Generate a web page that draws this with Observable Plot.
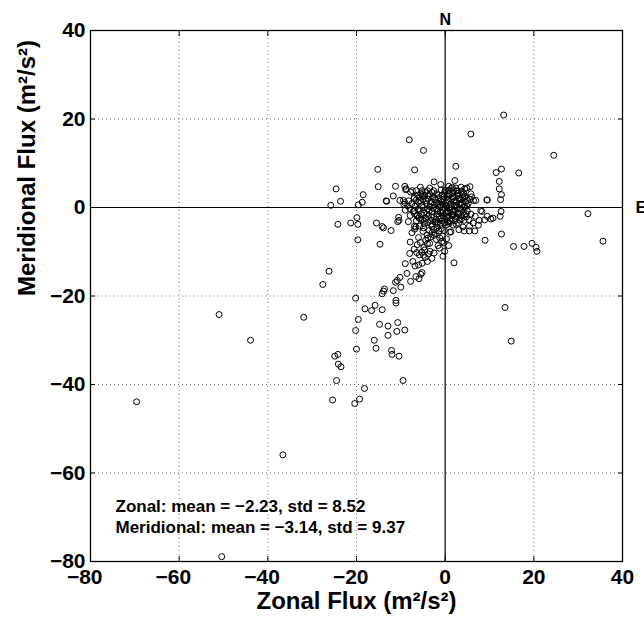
<!DOCTYPE html>
<html><head><meta charset="utf-8">
<script src="https://cdn.jsdelivr.net/npm/d3@7"></script>
<script src="https://cdn.jsdelivr.net/npm/@observablehq/plot@0.6"></script>
<style>body{margin:0;background:#fff}</style>
</head><body><div id="chart"></div>
<script>
// ---- data (zonal, meridional) in m^2/s^2 ----
const xTicks = [-80, -60, -40, -20, 0, 20, 40];
const yTicks = [-80, -60, -40, -20, 0, 20, 40];
const gridTicks = [-60, -40, -20, 20];
const xLabel = "Zonal Flux (m\u00B2/s\u00B2)";
const yLabel = "Meridional Flux (m\u00B2/s\u00B2)";
const zonalMean = -2.23, zonalStd = 8.52;
const meridMean = -3.14, meridStd = 9.37;

const farPoints = [
[-69.6,-43.9],[-50.4,-78.9],[-51.0,-24.2],[-43.9,-30.0],[-36.6,-55.9],[-31.9,-24.8],
[-26.2,-14.4],[-27.6,-17.4],
[-24.1,-35.4],[-23.5,-36.0],[-24.5,-39.1],[-25.4,-43.5],[-20.4,-44.3],[-19.3,-43.3],[-18.2,-40.9],
[-24.9,-33.6],[-24.2,-33.2],[-20.0,-32.0],[-20.2,-27.8],[-19.6,-25.3],[-20.2,-20.5],
[-18.1,-22.9],[-16.6,-23.3],[-15.8,-22.1],[-14.2,-23.1],
[-14.8,-26.4],[-12.9,-26.8],[-10.7,-26.0],[-10.9,-28.0],[-9.1,-27.7],[-12.9,-28.9],
[-16.0,-30.0],[-15.6,-31.8],[-12.1,-32.3],[-12.0,-33.2],[-10.4,-33.6],[-9.5,-39.1],
[-11.1,-21.0],[-11.1,-21.6],
[32.2,-1.4],[35.6,-7.6],[13.5,-22.6],[14.9,-30.2],[24.5,11.8],[13.2,20.9],[5.8,16.6]
];

const ringPoints = [
[-13.7,-18.4],[-13.9,-18.9],[-14.2,-19.5],[-11.7,-18.8],[-10.0,-18.0],
[-10.2,-15.8],[-10.8,-16.5],[-11.2,-16.9],[-7.8,-16.7],[-5.9,-16.1],[-8.6,-14.9],[-6.6,-15.6],[-5.5,-15.1],[-5.2,-14.7],
[-9.0,-12.7],[-6.8,-13.2],[-6.0,-13.0],[-5.2,-12.6],[-4.0,-12.2],[-4.9,-10.8],[-5.8,-10.7],[-5.3,-10.1],[-4.8,-9.0],[-3.8,-10.5],[-2.5,-10.3],[-3.5,-8.1],[-3.3,-6.7],[-2.9,-5.6],[-1.6,-8.6],[-0.1,-9.9],[-3.4,-9.9],[-1.4,-5.3],[-2.5,-6.3],[-4.0,-8.2],
[-14.7,-8.3],[-19.7,-7.3],[-12.2,-5.2],[-10.7,-3.2],[-10.5,-2.2],[-15.5,-3.5],[-14.2,-4.3],[-24.2,-3.8],[-21.3,-3.5],[-19.9,-2.3],[-19.7,-3.8],[-13.9,-4.6],[-6.9,-4.2],[-6.6,-4.4],[-10.4,-2.9],
[-8.1,15.3],[-4.9,12.9],[-15.2,8.6],[-6.9,8.5],[-2.5,5.8],[-24.6,4.2],[-15.1,4.7],[-23.6,1.4],[-25.8,0.5],[-18.5,2.9],[-18.7,1.2],[-19.6,0.6],[-13.3,1.5],[-11.2,4.8],[-11.7,2.6],[-9.1,4.8],[-10.2,1.6],[-9.4,1.6],[-8.9,4.0],[-7.8,3.5],[-8.8,4.2],[-13.2,1.4],[-9.1,1.1],
[2.4,9.3],[11.5,7.9],[12.7,8.7],[16.6,7.8],[2.2,6.1],[12.2,5.9],[12.2,4.2],[12.7,2.9],[12.5,1.8],[9.4,1.7],[1.4,4.3],[2.4,4.4],[4.4,4.2],[5.6,4.7],[6.4,1.6],[5.0,1.6],[4.9,4.4],[5.8,3.1],[4.4,2.3],[6.9,1.6],[9.5,1.7],[1.6,4.6],[2.8,3.8],
[12.6,-0.9],[12.4,-2.0],[8.3,-0.9],[9.5,-2.0],[10.3,-2.6],[10.8,-2.4],[12.7,-6.0],[9.0,-7.4],[15.4,-8.8],[17.8,-8.8],[19.6,-8.1],[20.5,-9.0],[20.7,-9.9],[2.0,-12.5],[1.3,-5.5],[3.1,-5.0],[4.3,-5.3],[5.4,-5.3],[6.7,-5.3],[8.0,-0.7],[6.8,-2.0],[7.7,-2.9],[8.9,-2.8],[1.0,-5.6]
];

const nearPoints = [
[-1.8,-4.5],[-2.6,-4.9],[-3.6,-5.2],[-4.1,-6.2],[-2.0,-7.2],[-0.6,-6.5],[-0.9,-4.8],[-4.4,-7.4],[-0.3,-8.0],[-5.0,-5.4],[-6.0,-6.8],[-7.5,-5.7],[-8.3,-3.2],[-7.9,-1.8],[-9.0,-0.6],[-7.9,-7.8],[-7.0,-9.4],[-6.3,-8.4],[-8.5,0.4],[-9.3,0.7],[-7.0,-0.7],[-6.3,-1.8],[-5.5,-2.6],[-4.6,-3.7],
[-3.5,4.4],[-1.0,5.2],[0.8,4.8],[-5.6,4.6],[3.6,4.6],[-6.5,3.8],[6.0,2.4],[6.3,-3.5],[5.5,-4.2],[-0.2,-5.2],[-7.4,3.8],[-7.0,2.3],[-5.5,3.1],[7.5,-4.0],[4.0,-4.4],
[-6.9,-4.9],[-5.8,-4.2],[-4.9,-4.6],[-3.9,-6.9],[-3.0,-4.3],[-2.2,-5.8],[-1.2,-6.9],[-0.8,-7.7],[-1.3,-9.2],[-5.6,-7.9],[-4.6,-9.6],[-6.4,-10.2],[-7.3,-12.2],[-8.0,-10.4],[-3.0,-11.5],[-4.5,-11.3],[0.3,-7.1],[-0.5,-11.0],[0.8,-8.6]
];

const corePoints = [
[-5.3,0.4],[-5.0,1.8],[-4.8,-1.2],[-4.6,2.6],[-4.4,-2.4],[-4.2,0.9],[-4.0,-0.3],[-3.9,1.9],[-3.7,-1.8],[-3.5,3.0],[-3.4,0.2],[-3.2,-2.9],[-3.1,1.3],[-2.9,-0.9],[-2.8,2.4],[-2.6,-2.1],[-2.5,0.6],[-2.3,-3.3],[-2.2,1.7],[-2.0,-0.4],[-1.9,3.1],[-1.8,-1.5],[-1.6,0.9],[-1.5,2.2],[-1.4,-2.6],[-1.2,0.1],[-1.1,-1.0],[-1.0,1.5],[-0.8,-3.0],[-0.7,2.8],[-0.6,-0.6],[-0.5,0.7],[-0.4,-1.9],[-0.3,1.9],[-0.2,-0.2],[-0.1,3.4],[0.0,-2.7],[0.1,1.1],[0.2,-1.3],[0.3,0.3],[0.4,2.5],[0.5,-0.8],[0.6,-3.2],[0.7,1.6],[0.8,-2.0],[0.9,0.0],[1.0,2.9],[1.1,-1.1],[1.2,0.8],[1.4,-2.6],[1.5,1.9],[1.6,-0.5],[1.7,3.3],[1.8,-1.7],[2.0,0.4],[2.1,2.3],[2.2,-3.0],[2.3,-0.9],[2.5,1.3],[2.6,-2.2],[2.7,0.0],[2.9,2.7],[3.0,-1.5],[3.1,0.9],[3.3,-2.8],[3.4,1.8],[3.5,-0.4],[3.7,-1.9],[3.8,0.6],[4.0,2.2],[4.1,-1.0],[4.3,-2.9],[4.4,0.2],[4.6,1.4],[-5.6,-0.7],[-6.0,1.2],[-5.8,2.3],[-6.3,-1.9],[-5.1,-2.8],[-4.5,3.4],[-3.0,-3.8],[-1.2,-3.9],[0.3,-3.9],[1.8,-4.0],[3.0,-3.6],[4.8,-2.1],[5.2,0.9],[5.0,-0.8],[-2.6,3.8],[-0.9,4.0],[0.9,3.9],[2.6,3.7],[4.2,3.1],[-6.8,0.3],[-7.2,-0.9],[-6.5,-3.0],[-7.0,2.0]
];

const coreFill = [
[-5.7,1.5],[-5.4,-1.6],[-5.2,2.9],[-4.9,0.0],[-4.7,-3.1],[-4.3,1.5],[-4.1,-1.5],[-3.8,2.7],[-3.6,-0.8],[-3.3,0.9],[-3.1,-2.2],[-2.9,3.4],[-2.7,-0.2],[-2.4,2.0],[-2.1,-2.7],[-1.9,1.1],[-1.7,-0.8],[-1.5,2.8],[-1.3,-1.9],[-1.1,0.6],[-0.9,-2.4],[-0.7,1.2],[-0.5,-1.2],[-0.3,2.5],[-0.1,-3.4],[0.1,0.4],[0.3,-2.2],[0.5,1.8],[0.7,-1.0],[0.9,3.2],[1.1,-3.0],[1.3,0.2],[1.5,-1.6],[1.7,2.4],[1.9,-0.9],[2.1,1.4],[2.3,-2.5],[2.5,0.5],[2.7,3.2],[2.9,-1.2],[3.1,2.0],[3.3,-0.2],[3.5,1.0],[3.7,-2.5],[3.9,2.9],[4.1,0.1],[4.3,-1.7],[4.5,2.5],[-6.1,-0.3],[-6.6,1.6],[-5.9,-2.4],[-4.0,3.8],[-2.0,-3.6],[0.0,3.9],[1.9,3.8],[3.6,3.7],[4.9,0.3],[4.7,-1.4],[-1.6,-3.3],[0.9,-3.6],[2.5,-3.8],[-3.9,-3.4],[-7.5,0.9],[-6.9,-1.4],[-6.2,2.8],[-5.2,3.8],[5.6,1.8],[5.8,-1.5],[5.4,-2.8],[-8.0,-0.2],[-8.2,1.5]
];

// ---- chart ----
const pts = [...farPoints, ...ringPoints, ...nearPoints, ...corePoints, ...coreFill].map(([x, y]) => ({x, y}));
const signed = v => (v < 0 ? "\u2212" : "") + Math.abs(v).toFixed(2);
const statsText = `Zonal: mean = ${signed(zonalMean)}, std = ${zonalStd.toFixed(2)}\nMeridional: mean = ${signed(meridMean)}, std = ${meridStd.toFixed(2)}`;
const bold = {fontWeight: "bold", fill: "#000"};
const gridStyle = {stroke: "#000", strokeOpacity: 0.55, strokeDasharray: "1,3"};

const chart = Plot.plot({
  width: 644, height: 629,
  marginLeft: 90, marginRight: 22, marginTop: 30, marginBottom: 68,
  style: {fontFamily: "'Liberation Sans', Arial, Helvetica, sans-serif", background: "#fff", color: "#000", overflow: "visible"},
  x: {domain: [-80, 40], axis: null},
  y: {domain: [-80, 40], axis: null},
  marks: [
    Plot.gridX(gridTicks, gridStyle),
    Plot.gridY(gridTicks, gridStyle),
    Plot.ruleX([0], {stroke: "#000", strokeWidth: 1.2}),
    Plot.ruleY([0], {stroke: "#000", strokeWidth: 1.2}),
    Plot.dot(pts, {x: "x", y: "y", r: 3, stroke: "#000", strokeWidth: 1, fill: "none"}),
    Plot.frame({stroke: "#000", strokeWidth: 1.3}),
    Plot.axisX(xTicks, {anchor: "bottom", tickSize: -5, fill: "none", label: null}),
    Plot.axisX(xTicks, {anchor: "top", tickSize: -5, fill: "none", label: null}),
    Plot.axisY(yTicks, {anchor: "left", tickSize: -5, fill: "none", label: null}),
    Plot.axisY(yTicks, {anchor: "right", tickSize: -5, fill: "none", label: null}),
    Plot.axisY(yTicks, {anchor: "left", tickSize: 0, tickPadding: 5, fontSize: 21, fontWeight: "bold", label: null}),
    Plot.text(xTicks.filter(d => d < 0), {x: d => d, text: d => "\u2212" + Math.abs(d), frameAnchor: "bottom", textAnchor: "end", dx: 12, dy: 22, fontSize: 21, ...bold}),
    Plot.text(xTicks.filter(d => d >= 0), {x: d => d, text: d => String(d), frameAnchor: "bottom", dy: 22, fontSize: 21, ...bold}),
    Plot.text([xLabel], {text: d => d, frameAnchor: "bottom", dy: 47, fontSize: 24, ...bold}),
    Plot.text([yLabel], {text: d => d, frameAnchor: "left", rotate: -90, dx: -63, fontSize: 24, ...bold}),
    Plot.text([0], {x: d => d, text: () => "N", frameAnchor: "top", dy: -17, fontSize: 16, ...bold}),
    Plot.text([0], {y: d => d, text: () => "E", frameAnchor: "right", textAnchor: "start", dx: 13, fontSize: 17, ...bold}),
    Plot.text([statsText], {text: d => d, frameAnchor: "bottom-left", textAnchor: "start", lineAnchor: "middle", lineHeight: 1.235, dx: 25, dy: -45.5, fontSize: 17, ...bold})
  ]
});
document.getElementById("chart").appendChild(chart);
</script>
</body></html>
